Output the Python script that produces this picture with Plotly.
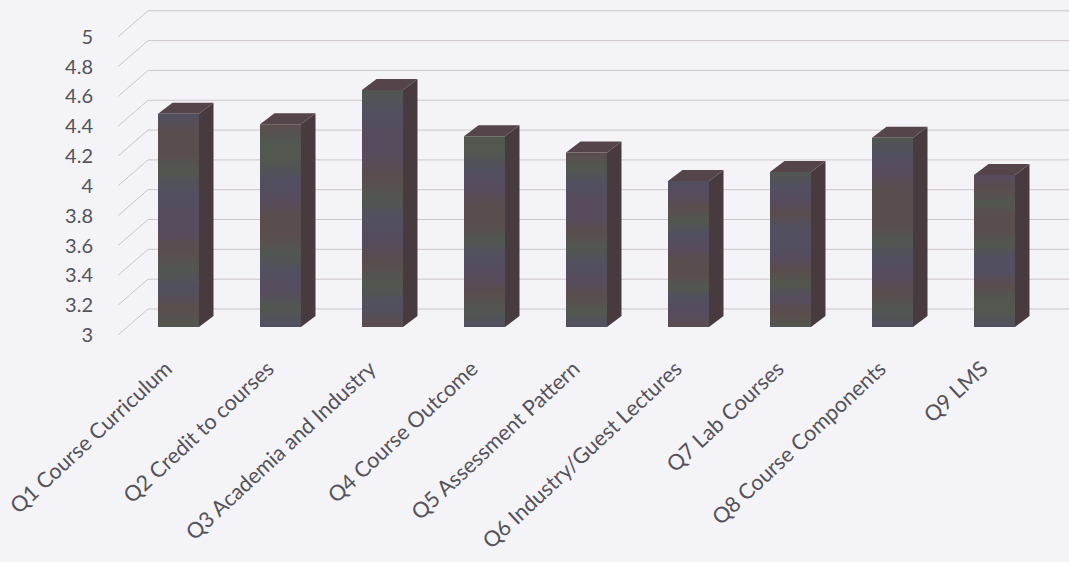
import plotly.graph_objects as go

categories = ["Q1 Course Curriculum", "Q2 Credit to courses", "Q3 Academia and Industry",
              "Q4 Course Outcome", "Q5 Assessment Pattern", "Q6 Industry/Guest Lectures",
              "Q7 Lab Courses", "Q8 Course Components", "Q9 LMS"]
scores = [4.43, 4.36, 4.59, 4.28, 4.17, 3.98, 4.04, 4.27, 4.02]
tick_values = [3, 3.2, 3.4, 3.6, 3.8, 4, 4.2, 4.4, 4.6, 4.8, 5]
tick_labels = ["3", "3.2", "3.4", "3.6", "3.8", "4", "4.2", "4.4", "4.6", "4.8", "5"]

# iridescent scan bands per bar, top to bottom
P, B, G, V = "#564c5e", "#5a4d4e", "#525750", "#514f60"
bands = [
    [V, B, B, G, V, P, P, B, G, V, B, G],
    [B, G, G, V, P, B, B, G, V, P, G, V],
    [G, V, P, P, B, G, V, P, B, G, V, B],
    [G, G, V, P, B, B, G, V, P, B, G, V],
    [B, G, V, P, P, B, G, V, P, B, G, V],
    [V, P, B, G, V, P, B, B, G, V, P, B],
    [G, V, P, B, V, V, P, B, G, P, B, G],
    [G, V, P, B, B, B, G, V, P, B, G, V],
    [P, B, G, B, B, G, V, V, B, G, G, V],
]

# pixel metrics of the pseudo-3D projection
PX_X, PX_Y = 102.0, 149.0
WALL_DX, WALL_DY = 30 / PX_X, 26 / PX_Y
BAR_DX, BAR_DY = 9.5 / PX_X, 8 / PX_Y
HALF_W = 20.5 / PX_X
DEPTH_DX, DEPTH_DY = 14.5 / PX_X, 11 / PX_Y
LABEL_SHIFT = 3 / PX_X
INK = "#55525a"
X_MAX = -0.5 + (1069 - 118) / PX_X
Y_MAX = 5.2

fig = go.Figure()

# gridlines: slanted part on the side wall, then horizontal along the back wall
gx, gy = [], []
for t in tick_values:
    gx += [-0.5, -0.5 + WALL_DX, X_MAX, None]
    gy += [t, t + WALL_DY, t + WALL_DY, None]
fig.add_trace(go.Scatter(x=gx, y=gy, mode="lines", line=dict(color="#cdc6ca", width=1),
                         hoverinfo="skip", showlegend=False))

for i, v in enumerate(scores):
    x0 = i + BAR_DX - HALF_W
    x1 = i + BAR_DX + HALF_W
    b = 3 + BAR_DY
    t = v + BAR_DY
    # side face
    fig.add_trace(go.Scatter(
        x=[x1, x1 + DEPTH_DX, x1 + DEPTH_DX, x1, x1],
        y=[b, b + DEPTH_DY, t + DEPTH_DY, t, b],
        mode="lines", fill="toself", fillcolor="#483b3f", line=dict(width=0),
        hoverinfo="skip", showlegend=False))
    # top face
    fig.add_trace(go.Scatter(
        x=[x0, x0 + DEPTH_DX, x1 + DEPTH_DX, x1, x0],
        y=[t, t + DEPTH_DY, t + DEPTH_DY, t, t],
        mode="lines", fill="toself", fillcolor="#55444a", line=dict(width=0),
        hoverinfo="skip", showlegend=False))
    # front face
    n = len(bands[i])
    fig.add_trace(go.Scatter(
        x=[x0, x1, x1, x0, x0], y=[b, b, t, t, b],
        mode="lines", fill="toself", line=dict(width=0),
        fillgradient=dict(type="vertical",
                          colorscale=[[k / (n - 1), bands[i][n - 1 - k]] for k in range(n)]),
        name=categories[i], showlegend=False))

fig.update_layout(
    width=1069, height=562,
    margin=dict(l=118, r=0, t=7, b=227),
    paper_bgcolor="#f4f4f8", plot_bgcolor="rgba(0,0,0,0)",
    showlegend=False,
    font=dict(family="Lato", color=INK, size=20),
    xaxis=dict(range=[-0.5, X_MAX], tickmode="array",
               tickvals=[i - LABEL_SHIFT for i in range(len(categories))],
               ticktext=categories, tickangle=-43, showgrid=False, zeroline=False,
               showline=False, ticks="", ticklabelstandoff=16, tickfont=dict(size=21.5)),
    yaxis=dict(range=[3, Y_MAX], tickmode="array", tickvals=tick_values, ticktext=tick_labels,
               showgrid=False, zeroline=False, showline=False, ticks="", ticklabelstandoff=24,
               tickfont=dict(size=20)),
)

fig.write_html("out.html", config={"displayModeBar": False},
               post_script="document.body.style.margin='0';document.body.style.background='#f4f4f8';"
                           "document.body.style.overflow='hidden';window.dispatchEvent(new Event('resize'));")
